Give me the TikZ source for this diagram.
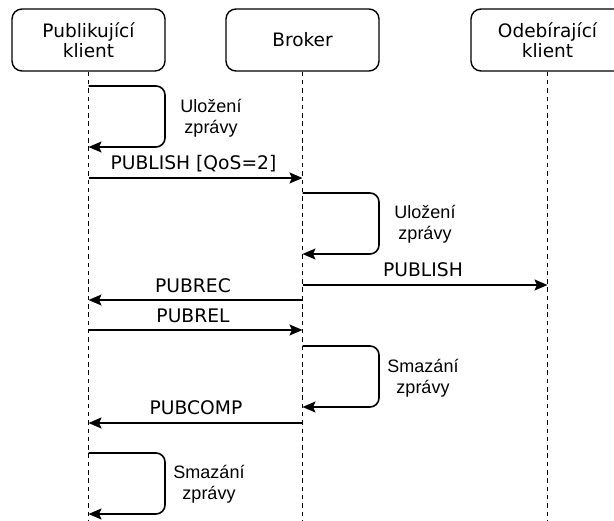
\documentclass[tikz,border=0pt]{standalone}
\usepackage{fontspec}
\setmainfont{DejaVu Sans}
\newfontfamily\arialf{Liberation Sans}
\usetikzlibrary{arrows.meta}
\begin{document}
\begin{tikzpicture}[x=1pt,y=-1pt,
  actor/.style={draw,line width=1.4pt,rounded corners=10pt,minimum width=153pt,minimum height=62pt,align=center,inner sep=0pt,font=\fontsize{18.5}{20}\selectfont},
  life/.style={line width=1.3pt,dash pattern=on 4.5pt off 3.8pt},
  msg/.style={line width=1.6pt,-{Stealth[length=13pt,width=11pt,inset=2.5pt]}},
  loop/.style={msg,rounded corners=9pt},
  lbl/.style={align=center,inner sep=0pt,font=\fontsize{18.7}{22}\selectfont},
  note/.style={align=center,inner sep=0pt,font=\arialf\fontsize{18}{21.5}\selectfont}]
\useasboundingbox (0,0) rectangle (614,521);
\begin{scope}
\clip (0,0) rectangle (614,521);
\node[actor] (pub) at (88.5,40) {Publikující\\klient};
\node[actor] (brk) at (302.5,40) {Broker};
\node[actor] (sub) at (547.5,40) {Odebírající\\klient};
\coordinate (pubE) at (88.5,525);
\coordinate (brkE) at (302.5,525);
\coordinate (subE) at (547.5,525);
\draw[life] (pub.south) -- (pubE);
\draw[life] (brk.south) -- (brkE);
\draw[life] (sub.south) -- (subE);

% loop 1
\coordinate (l1a) at (88.5,86);
\coordinate (l1b) at (88.5,147);
\coordinate (l1r) at (165,0);
\draw[loop] (l1a) -- (l1r |- l1a) -- (l1r |- l1b) -- (l1b);
\node[note] (t1) at (211,118) {Uložení\\zprávy};

% PUBLISH QoS=2
\coordinate (m1a) at (88.5,178);
\coordinate (m1b) at (302.5,178);
\draw[msg] (m1a) -- (m1b);
\node[lbl] (t2) at (193.5,164) {PUBLISH [QoS=2]};

% loop 2
\coordinate (l2a) at (302.5,193);
\coordinate (l2b) at (302.5,254);
\coordinate (l2r) at (379,0);
\draw[loop] (l2a) -- (l2r |- l2a) -- (l2r |- l2b) -- (l2b);
\node[note] (t3) at (425,224) {Uložení\\zprávy};

% PUBLISH
\coordinate (m2a) at (302.5,285);
\coordinate (m2b) at (547.5,285);
\draw[msg] (m2a) -- (m2b);
\node[lbl] (t4) at (423,270) {PUBLISH};

% PUBREC
\coordinate (m3a) at (302.5,300);
\coordinate (m3b) at (88.5,300);
\draw[msg] (m3a) -- (m3b);
\node[lbl] (t5) at (193,286) {PUBREC};

% PUBREL
\coordinate (m4a) at (88.5,330);
\coordinate (m4b) at (302.5,330);
\draw[msg] (m4a) -- (m4b);
\node[lbl] (t6) at (193,316) {PUBREL};

% loop 3
\coordinate (l3a) at (302.5,346);
\coordinate (l3b) at (302.5,407);
\draw[loop] (l3a) -- (l2r |- l3a) -- (l2r |- l3b) -- (l3b);
\node[note] (t7) at (423,378) {Smazání\\zprávy};

% PUBCOMP
\coordinate (m5a) at (302.5,423);
\coordinate (m5b) at (88.5,423);
\draw[msg] (m5a) -- (m5b);
\node[lbl] (t8) at (196,408) {PUBCOMP};

% loop 4
\coordinate (l4a) at (88.5,453);
\coordinate (l4b) at (88.5,514);
\draw[loop] (l4a) -- (l1r |- l4a) -- (l1r |- l4b) -- (l4b);
\node[note] (t9) at (209,484) {Smazání\\zprávy};
\end{scope}
\end{tikzpicture}
\end{document}
